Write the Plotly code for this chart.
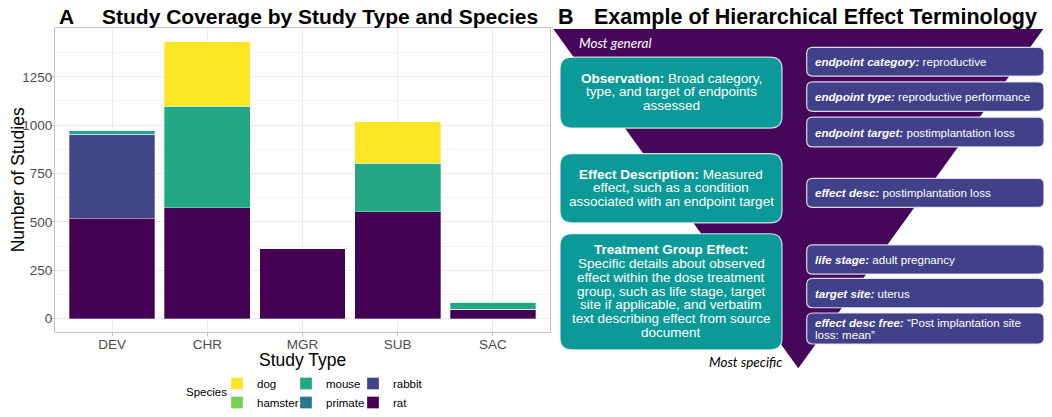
import plotly.graph_objects as go

# the page body keeps its default 8px margin, so the figure is made 8px smaller
# and every position below is given in window pixels, then shifted
OFF = 8
W, H = 1052 - OFF, 417 - OFF

# ---- data (panel A) ----
study_types = ["DEV", "CHR", "MGR", "SUB", "SAC"]
rat = [518, 573, 360, 552, 49]
rabbit = [435, 0, 0, 0, 0]
primate = [0, 0, 0, 0, 0]
mouse = [19, 524, 0, 252, 36]
hamster = [0, 0, 0, 0, 0]
dog = [0, 333, 0, 213, 0]
y_ticks = [0, 250, 500, 750, 1000, 1250]

# ---- text (panel B) ----
obs_lines = ["<b>Observation:</b> Broad category,", "type, and target of endpoints", "assessed"]
desc_lines = ["<b>Effect Description:</b> Measured", "effect, such as a condition",
              "associated with an endpoint target"]
tge_lines = ["<b>Treatment Group Effect:</b>", "Specific details about observed",
             "effect within the dose treatment", "group, such as life stage, target",
             "site if applicable, and verbatim", "text describing effect from source", "document"]
field_names = ["endpoint category:", "endpoint type:", "endpoint target:", "effect desc:",
               "life stage:", "target site:", "effect desc free:"]
field_values = ["reproductive", "reproductive performance", "postimplantation loss",
                "postimplantation loss", "adult pregnancy", "uterus",
                "\u201cPost implantation site<br>loss: mean\u201d"]

FONT = "Liberation Sans, Arial, sans-serif"


def px(x):
    return (x - OFF) / W


def py(y):
    return 1 - (y - OFF) / H


def rrect(x0, y0, x1, y1, r):
    pts = [("M", [(x0 + r, y0)]), ("L", [(x1 - r, y0)]), ("Q", [(x1, y0), (x1, y0 + r)]),
           ("L", [(x1, y1 - r)]), ("Q", [(x1, y1), (x1 - r, y1)]), ("L", [(x0 + r, y1)]),
           ("Q", [(x0, y1), (x0, y1 - r)]), ("L", [(x0, y0 + r)]), ("Q", [(x0, y0), (x0 + r, y0)])]
    s = ""
    for cmd, ps in pts:
        s += cmd + " ".join("%.5f,%.5f" % (px(a), py(b)) for a, b in ps) + " "
    return s + "Z"


fig = go.Figure()

series = [("rat", rat, "#440154", "legend3"), ("rabbit", rabbit, "#414487", "legend3"),
          ("primate", primate, "#2A788E", "legend2"), ("mouse", mouse, "#22A884", "legend2"),
          ("hamster", hamster, "#7AD151", "legend"), ("dog", dog, "#FDE725", "legend")]
for name, vals, col, lg in series:
    fig.add_trace(go.Bar(x=study_types, y=vals, name=name, legend=lg,
                         marker=dict(color=col, line=dict(color="rgba(255,255,255,0.5)", width=0.6))))

axis_common = dict(showline=True, mirror=True, linecolor="#c4c4c4", linewidth=1,
                   ticks="outside", ticklen=3, tickcolor="#c4c4c4", ticklabelstandoff=-4,
                   tickfont=dict(family=FONT, size=13.5, color="#4d4d4d"),
                   gridcolor="#ebebeb", gridwidth=1, zeroline=False, automargin=False)

fig.update_layout(
    width=W, height=H, margin=dict(l=0, r=0, t=0, b=0),
    paper_bgcolor="white", plot_bgcolor="white",
    barmode="stack", bargap=0.1,
    font=dict(family=FONT, color="black"),
    xaxis=dict(domain=[px(55), px(550)], type="category", categoryorder="array",
               categoryarray=study_types, range=[-0.6, 4.6], **axis_common),
    yaxis=dict(domain=[py(335.7), py(28.3)], range=[-71.5, 1501.5], tickvals=y_ticks,
               minor=dict(dtick=125, tick0=125, showgrid=True, gridcolor="#f3f3f3", ticks=""),
               **axis_common),
)

leg_common = dict(orientation="v", yanchor="middle", y=py(397), xanchor="left",
                  font=dict(family=FONT, size=11.5, color="black"), bgcolor="rgba(0,0,0,0)")
fig.update_layout(legend=dict(x=px(217), **leg_common),
                  legend2=dict(x=px(286), **leg_common),
                  legend3=dict(x=px(353), **leg_common))

ann = []


def text(t, x, y, size, xanchor="center", color="black", angle=0, family=FONT):
    ann.append(dict(text=t, x=px(x), y=py(y), xref="paper", yref="paper", showarrow=False,
                    xanchor=xanchor, yanchor="middle", textangle=angle,
                    font=dict(family=family, size=size, color=color)))


# panel A texts
text("<b>A</b>", 66, 17, 21)
text("<b>Study Coverage by Study Type and Species</b>", 100, 17, 21, xanchor="left")
text("Number of Studies", 18, 182, 17.5, angle=-90)
text("Study Type", 302.5, 363, 17.5)
text("Species", 206, 396, 11.5)

# panel B
text("<b>B</b>", 566, 17, 21.5)
text("<b>Example of Hierarchical Effect Terminology</b>", 592, 17, 21.5, xanchor="left")

shapes = []
funnel = "M%.5f,%.5f L%.5f,%.5f L%.5f,%.5f Z" % (px(553.3), py(29.3), px(1043.3), py(29.3),
                                                  px(798.3), py(371.7))
shapes.append(dict(type="path", path=funnel, xref="paper", yref="paper",
                   fillcolor="#46075A", line=dict(width=0)))

teal_boxes = [(560, 57.7, 782, 129.3), (560, 155, 782, 225), (560, 236, 782, 353.3)]
for x0, y0, x1, y1 in teal_boxes:
    shapes.append(dict(type="path", path=rrect(x0, y0, x1, y1, 12), xref="paper", yref="paper",
                       fillcolor="#0C9A98", line=dict(color="rgba(255,255,255,0.8)", width=1.2)))

right_boxes = [(47.7, 76.7), (82.7, 112.3), (118.3, 148.3), (180, 209.3),
               (247.3, 276.7), (281, 310.7), (316, 347.3)]
for y0, y1 in right_boxes:
    shapes.append(dict(type="path", path=rrect(806.7, y0, 1044, y1, 6), xref="paper", yref="paper",
                       fillcolor="#41418A", line=dict(color="rgba(235,235,250,0.9)", width=1.2)))

fig.update_layout(shapes=shapes)

text("<i>Most general</i>", 577, 43.3, 13.5, xanchor="left", color="white", family="Lato")
text("<i>Most specific</i>", 784, 365.7, 13.5, xanchor="right", color="black", family="Lato")

for lines, y_first, step in [(obs_lines, 79.3, 13.35), (desc_lines, 175.7, 13.65),
                             (tge_lines, 252.3, 13.9)]:
    for i, ln in enumerate(lines):
        text(ln, 671, y_first + i * step, 13.5, color="white")

for (y0, y1), nm, val in zip(right_boxes, field_names, field_values):
    yc = (y0 + y1) / 2
    if "<br>" in val:
        first, second = val.split("<br>")
        text("<b><i>%s</i></b> %s" % (nm, first), 812.5, 325.7, 11.6, xanchor="left", color="white")
        text(second, 812.5, 337.5, 11.6, xanchor="left", color="white")
    else:
        text("<b><i>%s</i></b> %s" % (nm, val), 812.5, yc, 11.6, xanchor="left", color="white")

fig.update_layout(annotations=ann)

fig.write_html("out.html")
